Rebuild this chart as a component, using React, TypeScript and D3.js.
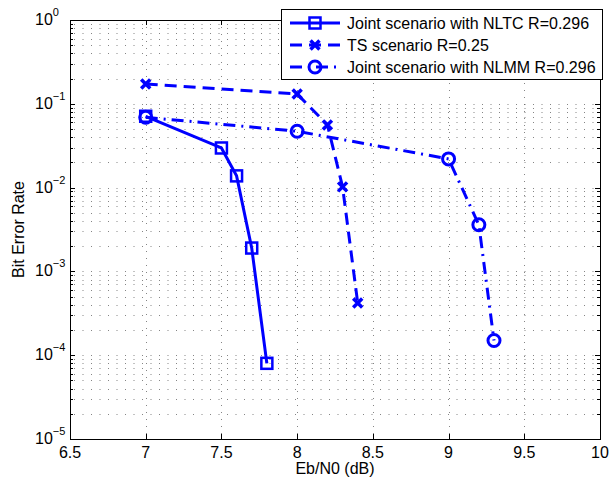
import React, { useEffect, useRef } from 'react';
import * as d3 from 'd3';

// values
const nltcX = [7, 7.5, 7.6, 7.7, 7.8];
const nltcY = [0.071, 0.0297, 0.0138, 0.0019, 8.0e-5];
const tsX = [7, 8, 8.2, 8.3, 8.4];
const tsY = [0.172, 0.131, 0.056, 0.0102, 4.2e-4];
const nlmmX = [7, 8, 9, 9.2, 9.3];
const nlmmY = [0.069, 0.047, 0.022, 0.0036, 1.5e-4];

const xTicks = [6.5, 7, 7.5, 8, 8.5, 9, 9.5, 10];
const yExponents = [0, -1, -2, -3, -4, -5];
const legendLabels = [
  'Joint scenario with NLTC R=0.296',
  'TS scenario R=0.25',
  'Joint scenario with NLMM R=0.296',
];

const W = 611;
const H = 479;
const BLUE = '#0000ff';
const FONT = '"Liberation Sans", Arial, sans-serif';

const App = () => {
  const svgRef = useRef<SVGSVGElement>(null);

  useEffect(() => {
    const svg = d3.select(svgRef.current);
    svg.selectAll('*').remove();

    const margin = { top: 20, right: 11, bottom: 40, left: 70 };
    const x = d3.scaleLinear().domain([6.5, 10]).range([margin.left, W - margin.right]);
    const y = d3.scaleLog().domain([1e-5, 1]).range([H - margin.bottom, margin.top]);
    const [x0, x1] = x.range();
    const [y0, y1] = y.range();

    svg.append('rect').attr('width', W).attr('height', H).attr('fill', '#fff');

    // minor log values
    const minors: number[] = [];
    for (let e = -5; e < 0; e++) {
      for (let m = 2; m <= 9; m++) minors.push(m * Math.pow(10, e));
    }

    const grid = svg.append('g').attr('stroke', '#333').attr('stroke-width', 1);
    // horizontal dotted grid (major + minor)
    [...minors, ...yExponents.map((e) => Math.pow(10, e))].forEach((v) => {
      const yy = Math.round(y(v)) + 0.5;
      if (yy <= y1 + 1 || yy >= y0 - 1) return;
      grid
        .append('line')
        .attr('x1', x0 + 4)
        .attr('x2', x1)
        .attr('y1', yy)
        .attr('y2', yy)
        .attr('stroke-dasharray', '1,7.5')
        .attr('stroke-opacity', 0.6);
    });
    // vertical dotted grid at major x ticks
    xTicks.slice(1, -1).forEach((t) => {
      const xx = Math.round(x(t)) + 0.5;
      grid
        .append('line')
        .attr('x1', xx)
        .attr('x2', xx)
        .attr('y1', y1)
        .attr('y2', y0)
        .attr('stroke-dasharray', '1,6')
        .attr('stroke-opacity', 0.6);
    });

    // axes box and ticks
    const ax = svg.append('g').attr('stroke', '#000').attr('stroke-width', 1);
    ax.append('rect')
      .attr('x', x0 + 0.5)
      .attr('y', y1 + 0.5)
      .attr('width', x1 - x0)
      .attr('height', y0 - y1)
      .attr('fill', 'none');
    xTicks.forEach((t) => {
      const xx = Math.round(x(t)) + 0.5;
      ax.append('line').attr('x1', xx).attr('x2', xx).attr('y1', y0).attr('y2', y0 - 5);
      ax.append('line').attr('x1', xx).attr('x2', xx).attr('y1', y1).attr('y2', y1 + 5);
    });
    yExponents.forEach((e) => {
      const yy = Math.round(y(Math.pow(10, e))) + 0.5;
      ax.append('line').attr('x1', x0).attr('x2', x0 + 5).attr('y1', yy).attr('y2', yy);
      ax.append('line').attr('x1', x1).attr('x2', x1 - 5).attr('y1', yy).attr('y2', yy);
    });
    minors.forEach((v) => {
      const yy = Math.round(y(v)) + 0.5;
      ax.append('line').attr('x1', x0).attr('x2', x0 + 3).attr('y1', yy).attr('y2', yy);
      ax.append('line').attr('x1', x1).attr('x2', x1 - 3).attr('y1', yy).attr('y2', yy);
    });

    // tick labels
    const txt = svg.append('g').attr('font-family', FONT).attr('fill', '#000');
    xTicks.forEach((t) => {
      txt.append('text')
        .attr('x', x(t))
        .attr('y', y0 + 19)
        .attr('text-anchor', 'middle')
        .attr('font-size', 16)
        .text(String(t));
    });
    yExponents.forEach((e) => {
      const yy = y(Math.pow(10, e));
      const t = txt.append('text').attr('x', 35).attr('y', yy + 5).attr('font-size', 16);
      t.append('tspan').text('10');
      t.append('tspan').attr('dy', -9).attr('font-size', 11).text(e === 0 ? '0' : '\u2212' + Math.abs(e));
    });

    // axis titles
    txt.append('text')
      .attr('x', (x0 + x1) / 2)
      .attr('y', H - 5)
      .attr('text-anchor', 'middle')
      .attr('font-size', 16)
      .text('Eb/N0 (dB)');
    txt.append('text')
      .attr('transform', `translate(24, ${(y0 + y1) / 2}) rotate(-90)`)
      .attr('text-anchor', 'middle')
      .attr('font-size', 16)
      .text('Bit Error Rate');

    const series = [
      { xs: nltcX, ys: nltcY, dash: null, marker: 'square' },
      { xs: tsX, ys: tsY, dash: '12,7', marker: 'x' },
      { xs: nlmmX, ys: nlmmY, dash: '12,6,2,6', marker: 'circle' },
    ];

    const line = d3
      .line<[number, number]>()
      .x((d) => x(d[0]))
      .y((d) => y(d[1]));

    const drawMarker = (g: any, kind: string, cx: number, cy: number) => {
      if (kind === 'square') {
        g.append('rect')
          .attr('x', cx - 5.5)
          .attr('y', cy - 5.5)
          .attr('width', 11)
          .attr('height', 11)
          .attr('fill', 'none')
          .attr('stroke', BLUE)
          .attr('stroke-width', 2.5);
      } else if (kind === 'circle') {
        g.append('circle')
          .attr('cx', cx)
          .attr('cy', cy)
          .attr('r', 6)
          .attr('fill', 'none')
          .attr('stroke', BLUE)
          .attr('stroke-width', 3);
      } else {
        g.append('path')
          .attr('d', `M${cx - 4.5},${cy - 4.5}L${cx + 4.5},${cy + 4.5}M${cx - 4.5},${cy + 4.5}L${cx + 4.5},${cy - 4.5}`)
          .attr('stroke', BLUE)
          .attr('stroke-width', 3.5);
      }
    };

    const plot = svg.append('g');
    series.forEach((s) => {
      const pts = s.xs.map((v, i) => [v, s.ys[i]] as [number, number]);
      plot.append('path')
        .datum(pts)
        .attr('d', line)
        .attr('fill', 'none')
        .attr('stroke', BLUE)
        .attr('stroke-width', 3)
        .attr('stroke-dasharray', s.dash);
      pts.forEach((p) => drawMarker(plot, s.marker, x(p[0]), y(p[1])));
    });

    // legend
    const lg = svg.append('g');
    lg.append('rect')
      .attr('x', 281.5)
      .attr('y', 9.5)
      .attr('width', 321)
      .attr('height', 70)
      .attr('fill', '#fff')
      .attr('stroke', '#000');
    const rowY = [23, 45, 67];
    legendLabels.forEach((lab, i) => {
      const yy = rowY[i];
      const s = series[i];
      lg.append('line')
        .attr('x1', 290)
        .attr('x2', 340)
        .attr('y1', yy)
        .attr('y2', yy)
        .attr('stroke', BLUE)
        .attr('stroke-width', 3)
        .attr('stroke-dasharray', s.dash);
      drawMarker(lg, s.marker, 315, yy);
      lg.append('text')
        .attr('x', 347)
        .attr('y', yy + 6)
        .attr('font-family', FONT)
        .attr('font-size', 16)
        .text(lab);
    });
  }, []);

  return (
    <svg
      ref={svgRef}
      width={W}
      height={H}
      style={{ position: 'absolute', left: 0, top: 0 }}
    />
  );
};

export default App;
